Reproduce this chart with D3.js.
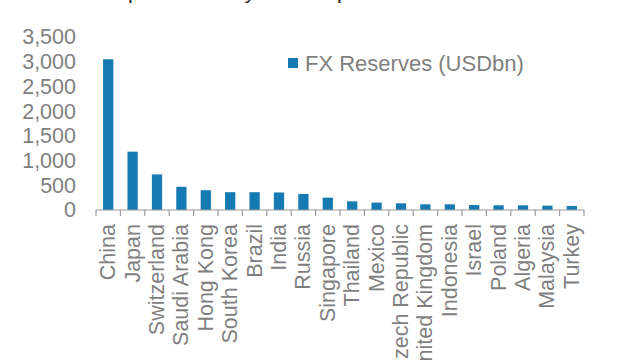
<!DOCTYPE html>
<html><head><meta charset="utf-8">
<script src="https://cdn.jsdelivr.net/npm/d3@7"></script>
<style>body{margin:0;background:#fff}svg{display:block}</style>
</head><body>
<svg id="c" width="640" height="360"></svg>
<script>
const titleText = "Exhibit 2: Top 20 currency reserve piles";
const seriesName = "FX Reserves (USDbn)";
const categories = ["China","Japan","Switzerland","Saudi Arabia","Hong Kong","South Korea","Brazil","India","Russia","Singapore","Thailand","Mexico","Czech Republic","United Kingdom","Indonesia","Israel","Poland","Algeria","Malaysia","Turkey"];
const values = [3050,1180,720,470,400,360,360,355,325,250,175,150,135,115,115,100,95,95,88,82];
const yTicks = [0,500,1000,1500,2000,2500,3000,3500];

const svg = d3.select("#c");
const font = "'Liberation Sans', Arial, sans-serif";
const grey = "#7f7f7f";
const blue = "#1579B2";

const x = d3.scaleBand().domain(categories).range([96,584]).paddingInner(0.58).paddingOuter(0.29);
const y = d3.scaleLinear().domain([0,3500]).range([210,37]);

// title (cut off at top)
svg.append("text").attr("x",14).attr("y",-1).attr("font-family",font).attr("font-size",21)
  .attr("fill","#222").text(titleText);

// y axis labels
const ya = svg.append("g").attr("transform","translate(96,0)")
  .call(d3.axisLeft(y).tickValues(yTicks).tickFormat(d3.format(",")).tickSize(0).tickPadding(20));
ya.select(".domain").remove();
ya.selectAll("text").attr("font-family",font).attr("font-size",21.5).attr("fill",grey);

// bars
svg.append("g").selectAll("rect").data(categories).join("rect")
  .attr("x",d=>x(d)).attr("width",x.bandwidth())
  .attr("y",(d,i)=>y(values[i])).attr("height",(d,i)=>y(0)-y(values[i]))
  .attr("fill",blue);

// x axis line and ticks at band boundaries
const step = x.step();
const xr = x.range();
const g = svg.append("g");
g.append("line").attr("x1",xr[0]).attr("x2",xr[1]).attr("y1",y(0)).attr("y2",y(0))
  .attr("stroke","#999").attr("stroke-width",1.2);
const bounds = d3.range(categories.length+1).map(i=>xr[0]+i*step);
g.selectAll("line.t").data(bounds).join("line").attr("class","t")
  .attr("x1",d=>d).attr("x2",d=>d).attr("y1",y(0)).attr("y2",y(0)+6)
  .attr("stroke","#999").attr("stroke-width",1.2);

// x labels rotated
svg.append("g").selectAll("text").data(categories).join("text")
  .attr("transform",d=>`translate(${x(d)+x.bandwidth()/2+7},${y(0)+14}) rotate(-90)`)
  .attr("text-anchor","end").attr("font-family",font).attr("font-size",21.5).attr("fill",grey)
  .text(d=>d);

// legend
svg.append("rect").attr("x",288).attr("y",58).attr("width",10).attr("height",10).attr("fill",blue);
svg.append("text").attr("x",305).attr("y",70.5).attr("font-family",font).attr("font-size",22)
  .attr("fill",grey).text(seriesName);
</script>
</body></html>
